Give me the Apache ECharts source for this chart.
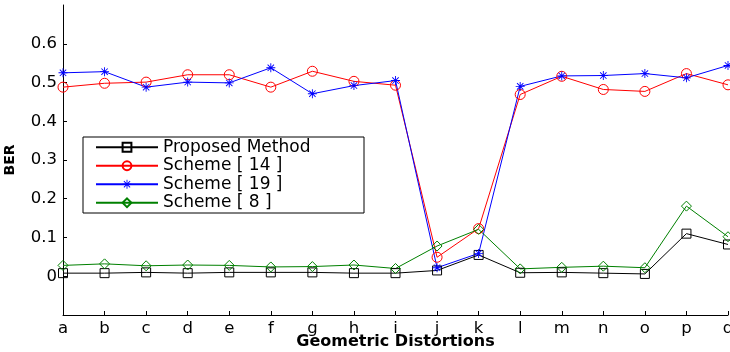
<!DOCTYPE html>
<html>
<head>
<meta charset="utf-8">
<script src="https://cdn.jsdelivr.net/npm/echarts@6/dist/echarts.min.js"></script>
<style>
html,body{margin:0;padding:0;background:#fff;}
#c{width:730px;height:352px;}
</style>
</head>
<body>
<div id="c"></div>
<script>
var categories = ['a','b','c','d','e','f','g','h','i','j','k','l','m','n','o','p','q'];
var proposed = [0.008,0.008,0.010,0.008,0.010,0.010,0.010,0.008,0.008,0.015,0.055,0.009,0.010,0.008,0.006,0.110,0.082];
var scheme14 = [0.488,0.498,0.501,0.520,0.520,0.488,0.529,0.503,0.493,0.049,0.123,0.469,0.516,0.482,0.477,0.523,0.494];
var scheme19 = [0.525,0.528,0.488,0.501,0.499,0.538,0.471,0.492,0.505,0.022,0.059,0.490,0.517,0.518,0.523,0.512,0.544];
var scheme8  = [0.028,0.032,0.027,0.029,0.028,0.024,0.025,0.029,0.020,0.078,0.121,0.019,0.023,0.026,0.022,0.181,0.102];
var yTicks = [0, 0.1, 0.2, 0.3, 0.4, 0.5, 0.6];
var seriesNames = ['Proposed Method','Scheme [ 14 ]','Scheme [ 19 ]','Scheme [ 8 ]'];

var FONT = '"DejaVu Sans", Verdana, sans-serif';
var star = 'path://M4.5 0H5.5V10H4.5Z M0 4.5H10V5.5H0Z M1.1 1.8L1.8 1.1L8.9 8.2L8.2 8.9Z M8.2 1.1L8.9 1.8L1.8 8.9L1.1 8.2Z';

function mk(name, data, color, symbol, size, hollow) {
  return {
    name: name, type: 'line', data: data, symbol: symbol, symbolSize: size,
    showAllSymbol: true, animation: false,
    lineStyle: {color: color, width: 1},
    itemStyle: hollow ? {color: 'rgba(255,255,255,0)', borderColor: color, borderWidth: 1}
                      : {color: color, borderWidth: 0},
    emphasis: {disabled: true}
  };
}

var chart = echarts.init(document.getElementById('c'));
chart.setOption({
  animation: false,
  backgroundColor: '#fff',
  grid: {left: 63, right: 2, top: 5, bottom: 37, containLabel: false, outerBoundsMode: 'none'},
  legend: {
    orient: 'vertical', left: 83, top: 137,
    data: seriesNames,
    backgroundColor: '#fff', borderColor: '#000', borderWidth: 1, borderRadius: 0,
    padding: [1, 6, 1, 12], itemGap: 0, itemWidth: 62, itemHeight: 11,
    textStyle: {fontFamily: FONT, fontSize: 17, color: '#000', width: 195, lineHeight: 18.5}
  },
  xAxis: {
    type: 'category', data: categories, boundaryGap: false,
    name: 'Geometric Distortions', nameLocation: 'middle', nameGap: 19, nameMoveOverlap: false,
    nameTextStyle: {fontFamily: FONT, fontSize: 16, fontWeight: 'bold', color: '#000'},
    axisLine: {onZero: false, lineStyle: {color: '#000', width: 1}},
    axisTick: {inside: true, length: 4, lineStyle: {color: '#000'}},
    axisLabel: {fontFamily: FONT, fontSize: 16.5, color: '#000', margin: 5, interval: 0},
    splitLine: {show: false}
  },
  yAxis: {
    type: 'value', min: -0.1, max: 0.7, interval: 0.1,
    name: 'BER', nameLocation: 'middle', nameGap: 46, nameRotate: 90, nameMoveOverlap: false,
    nameTextStyle: {fontFamily: FONT, fontSize: 14, fontWeight: 'bold', color: '#000'},
    axisLine: {show: true, onZero: false, lineStyle: {color: '#000', width: 1}},
    axisTick: {show: true, inside: true, length: 4, lineStyle: {color: '#000'}, customValues: yTicks},
    axisLabel: {fontFamily: FONT, fontSize: 16.5, color: '#000', margin: 6, customValues: yTicks,
      formatter: function (v) { return v === 0 ? '0' : v.toFixed(1); }},
    splitLine: {show: false}
  },
  series: [
    mk(seriesNames[0], proposed, '#000000', 'rect', 9, true),
    mk(seriesNames[1], scheme14, '#ff0000', 'circle', 10, true),
    mk(seriesNames[2], scheme19, '#0000ff', star, 9, false),
    mk(seriesNames[3], scheme8,  '#008000', 'diamond', 10, true)
  ]
});
</script>
</body>
</html>
